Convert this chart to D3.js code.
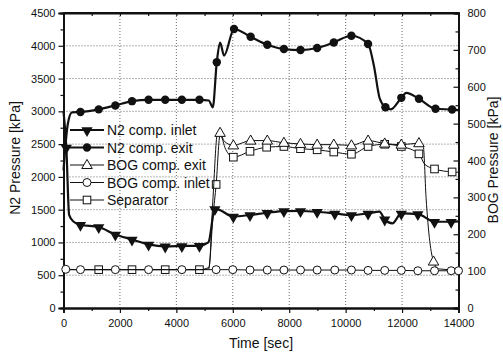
<!DOCTYPE html>
<html>
<head>
<meta charset="utf-8">
<script src="https://cdn.jsdelivr.net/npm/d3@7"></script>
<style>
	body { margin: 0; background: #fff; }
	text { font-family: "Liberation Sans", Arial, sans-serif; fill: #111; }
</style>
</head>
<body>
<div id="chart"></div>
<script>
// N2 side (left axis, kPa)
var n2InletT = [0, 100, 200, 350, 601, 1248, 1838, 2428, 3015, 3605, 4196, 4818, 5136, 5365, 5500, 6020, 6610, 7222, 7812, 8400, 8990, 9615, 10205, 10795, 11200, 11385, 11656, 11973, 12560, 13150, 13740, 14000];
var n2InletV = [3000, 2450, 1420, 1320, 1270, 1235, 1120, 1045, 970, 940, 945, 950, 1000, 1510, 1500, 1395, 1420, 1453, 1478, 1480, 1468, 1443, 1418, 1443, 1470, 1352, 1291, 1443, 1433, 1316, 1316, 1320];
var n2InletM = [0, 1, 0, 0, 1, 1, 1, 1, 1, 1, 1, 1, 0, 1, 0, 1, 1, 1, 1, 1, 1, 1, 1, 1, 0, 1, 0, 1, 1, 1, 1, 0];

var n2ExitT = [0, 150, 300, 601, 1248, 1838, 2428, 3015, 3605, 4196, 4818, 5150, 5290, 5433, 5550, 5690, 6045, 6633, 7223, 7812, 8400, 8990, 9580, 10205, 10795, 11000, 11205, 11410, 11600, 11973, 12150, 12598, 13185, 13774, 14000];
var n2ExitV = [2100, 2800, 2985, 2990, 3030, 3090, 3155, 3176, 3176, 3176, 3176, 3165, 3060, 3750, 4050, 3850, 4255, 4137, 4016, 3950, 3935, 3966, 4051, 4153, 4027, 3700, 3200, 3063, 3030, 3206, 3282, 3191, 3039, 3027, 3020];
var n2ExitM = [0, 0, 0, 1, 1, 1, 1, 1, 1, 1, 1, 0, 0, 1, 0, 0, 1, 1, 1, 1, 1, 1, 1, 1, 1, 0, 0, 1, 0, 1, 0, 1, 1, 1, 0];

// BOG side (right axis, kPa)
var bogExitT = [0, 4900, 5150, 5300, 5450, 5550, 5700, 6020, 6633, 7223, 7812, 8400, 8990, 9580, 10205, 10795, 11385, 11973, 12598, 12750, 12850, 13115, 13300, 14000];
var bogExitV = [104, 104, 106, 300, 470, 475, 452, 441, 454, 454, 448, 445, 443, 443, 441, 454, 446, 443, 447, 440, 300, 126, 106, 103];
var bogExitM = [0, 0, 0, 0, 0, 1, 0, 1, 1, 1, 1, 1, 1, 1, 1, 1, 1, 1, 1, 0, 0, 1, 0, 0];

var bogInletT = [80, 601, 1838, 3015, 4196, 5410, 6000, 6610, 7222, 7812, 8400, 8990, 9615, 10205, 10795, 11385, 11973, 12560, 13150, 13740, 14000];
var bogInletV = [105, 104, 104, 104, 104, 104, 104, 103, 103, 103, 103, 103, 103, 103, 102, 102, 102, 101, 101, 101, 101];

var sepT = [0, 1248, 2428, 3605, 4818, 5150, 5300, 5410, 5550, 5750, 6020, 6610, 7200, 7812, 8400, 8990, 9580, 10205, 10795, 11385, 11973, 12598, 12800, 13150, 13774, 14000];
var sepV = [104, 104, 104, 104, 104, 110, 250, 335, 470, 430, 409, 425, 436, 438, 432, 429, 423, 417, 438, 444, 438, 418, 390, 377, 369, 368];
var sepM = [0, 1, 1, 1, 1, 0, 0, 1, 0, 0, 1, 1, 1, 1, 1, 1, 1, 1, 1, 1, 1, 1, 0, 1, 1, 0];

var xTicks = [0, 2000, 4000, 6000, 8000, 10000, 12000, 14000];
var leftTicks = [0, 500, 1000, 1500, 2000, 2500, 3000, 3500, 4000, 4500];
var rightTicks = [0, 100, 200, 300, 400, 500, 600, 700, 800];

var legendNames = ['N2 comp. inlet', 'N2 comp. exit', 'BOG comp. exit', 'BOG comp. inlet', 'Separator'];

function zip(t, v, m){
	return t.map(function(d, i){
		return {t: d, v: v[i], m: m ? m[i] : 1};
	});
}

var width = 503, height = 355;
var x = d3.scaleLinear().domain([0, 14000]).range([63.5, 458.5]);
var yL = d3.scaleLinear().domain([0, 4500]).range([308, 13]);
var yR = d3.scaleLinear().domain([0, 800]).range([308, 13]);

var svg = d3.select('#chart').append('svg')
	.attr('width', width)
	.attr('height', height);

// dotted grid
var grid = svg.append('g').attr('stroke', '#444').attr('stroke-width', 0.8).attr('stroke-dasharray', '1,2');
grid.selectAll('.hg').data(leftTicks.slice(1, -1)).enter().append('line')
	.attr('x1', x(0)).attr('x2', x(14000))
	.attr('y1', function(d){ return yL(d); })
	.attr('y2', function(d){ return yL(d); });
grid.selectAll('.vg').data(xTicks.slice(1, -1)).enter().append('line')
	.attr('y1', yL(0)).attr('y2', yL(4500))
	.attr('x1', function(d){ return x(d); })
	.attr('x2', function(d){ return x(d); });

// axes
function styleAxis(g){
	g.select('.domain').attr('stroke', '#111').attr('stroke-width', 1.8);
	g.selectAll('line').attr('stroke', '#111').attr('stroke-width', 1.2);
	g.selectAll('text').style('font-size', '11px').attr('fill', '#111');
}

var minorX = d3.range(1000, 14000, 2000);
svg.append('g').attr('transform', 'translate(0,' + yL(0) + ')')
	.call(d3.axisBottom(x).tickValues(xTicks).tickSize(5).tickPadding(6).tickFormat(d3.format('d')))
	.call(styleAxis);
svg.append('g').attr('transform', 'translate(0,' + yL(0) + ')')
	.call(d3.axisBottom(x).tickValues(minorX).tickSize(3).tickFormat(''))
	.call(styleAxis);
svg.append('g').attr('transform', 'translate(0,' + yL(4500) + ')')
	.call(d3.axisBottom(x).tickValues(d3.range(1000, 14000, 1000)).tickSize(3).tickFormat(''))
	.call(styleAxis);

svg.append('g').attr('transform', 'translate(' + x(0) + ',0)')
	.call(d3.axisLeft(yL).tickValues(leftTicks).tickSize(5).tickPadding(3).tickFormat(d3.format('d')))
	.call(styleAxis);
svg.append('g').attr('transform', 'translate(' + x(0) + ',0)')
	.call(d3.axisLeft(yL).tickValues(d3.range(250, 4500, 500)).tickSize(3).tickFormat(''))
	.call(styleAxis);

svg.append('g').attr('transform', 'translate(' + x(14000) + ',0)')
	.call(d3.axisRight(yR).tickValues(rightTicks).tickSize(-5).tickPadding(9).tickFormat(d3.format('d')))
	.call(styleAxis);
svg.append('g').attr('transform', 'translate(' + x(14000) + ',0)')
	.call(d3.axisRight(yR).tickValues(d3.range(50, 800, 100)).tickSize(-3).tickFormat(''))
	.call(styleAxis);

// axis titles
svg.append('text').attr('x', x(7000)).attr('y', 348).attr('text-anchor', 'middle')
	.style('font-size', '14px').text('Time [sec]');
svg.append('text').attr('transform', 'translate(20,158) rotate(-90)').attr('text-anchor', 'middle')
	.style('font-size', '14px').text('N2 Pressure [kPa]');
svg.append('text').attr('transform', 'translate(498,160) rotate(-90)').attr('text-anchor', 'middle')
	.style('font-size', '14px').text('BOG Pressure [kPa]');

// series
var series = [
	{data: zip(sepT, sepV, sepM), y: yR, w: 1, marker: 'square'},
	{data: zip(bogExitT, bogExitV, bogExitM), y: yR, w: 1, marker: 'tri'},
	{data: zip(bogInletT, bogInletV), y: yR, w: 1, marker: 'circle'},
	{data: zip(n2InletT, n2InletV, n2InletM), y: yL, w: 2.2, marker: 'dtri'},
	{data: zip(n2ExitT, n2ExitV, n2ExitM), y: yL, w: 2.2, marker: 'dot'}
];

function drawMarker(g, type, cx, cy){
	if(type === 'dot'){
		g.append('circle').attr('cx', cx).attr('cy', cy).attr('r', 4.2).attr('fill', '#111');
	} else if(type === 'circle'){
		g.append('circle').attr('cx', cx).attr('cy', cy).attr('r', 4).attr('fill', '#fff').attr('stroke', '#111').attr('stroke-width', 1);
	} else if(type === 'square'){
		g.append('rect').attr('x', cx - 3.8).attr('y', cy - 3.8).attr('width', 7.6).attr('height', 7.6)
			.attr('fill', '#fff').attr('stroke', '#111').attr('stroke-width', 1);
	} else if(type === 'tri'){
		g.append('path').attr('d', d3.symbol().type(d3.symbolTriangle).size(48)())
			.attr('transform', 'translate(' + cx + ',' + (cy + 0.5) + ')')
			.attr('fill', '#fff').attr('stroke', '#111').attr('stroke-width', 1);
	} else if(type === 'dtri'){
		g.append('path').attr('d', d3.symbol().type(d3.symbolTriangle).size(55)())
			.attr('transform', 'translate(' + cx + ',' + (cy + 0.5) + ') rotate(180)')
			.attr('fill', '#111');
	}
}

series.forEach(function(s){
	var line = d3.line()
		.x(function(d){ return x(d.t); })
		.y(function(d){ return s.y(d.v); })
		.curve(d3.curveMonotoneX);
	svg.append('path').datum(s.data)
		.attr('d', line)
		.attr('fill', 'none')
		.attr('stroke', '#111')
		.attr('stroke-width', s.w);
	var g = svg.append('g');
	s.data.filter(function(d){ return d.m; }).forEach(function(d){
		drawMarker(g, s.marker, x(d.t), s.y(d.v));
	});
});

// frame top
svg.append('line').attr('x1', x(0)).attr('x2', x(14000)).attr('y1', yL(4500)).attr('y2', yL(4500))
	.attr('stroke', '#111').attr('stroke-width', 1.8);

// legend
var legendItems = [
	{name: legendNames[0], marker: 'dtri', w: 2.2},
	{name: legendNames[1], marker: 'dot', w: 2.2},
	{name: legendNames[2], marker: 'tri', w: 1},
	{name: legendNames[3], marker: 'circle', w: 1},
	{name: legendNames[4], marker: 'square', w: 1}
];
var legend = svg.append('g');
legendItems.forEach(function(d, i){
	var yy = 130 + i * 17.5;
	legend.append('line').attr('x1', 70).attr('x2', 104).attr('y1', yy).attr('y2', yy)
		.attr('stroke', '#111').attr('stroke-width', d.w);
	drawMarker(legend, d.marker, 87, yy);
	legend.append('text').attr('x', 107).attr('y', yy + 5).style('font-size', '14px').text(d.name);
});
</script>
</body>
</html>
